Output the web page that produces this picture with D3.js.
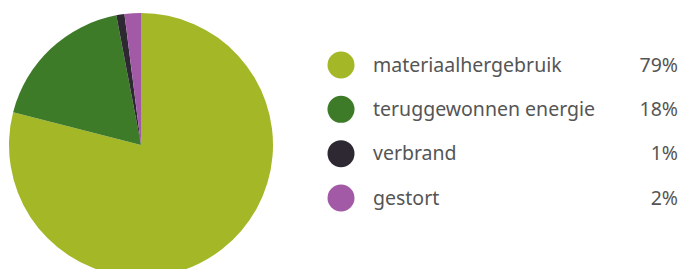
<!DOCTYPE html>
<html>
<head>
<meta charset="utf-8">
<script src="https://cdn.jsdelivr.net/npm/d3@7"></script>
<style>
  body { margin: 0; background: #fff; }
  svg { display: block; }
</style>
</head>
<body>
<svg id="chart" width="681" height="269"></svg>
<script>
const categories = ["materiaalhergebruik", "teruggewonnen energie", "verbrand", "gestort"];
const values = [79, 18, 1, 2];
const labels = ["79%", "18%", "1%", "2%"];
const colors = ["#a4b726", "#3e7b28", "#2e2832", "#a259a6"];

const width = 681, height = 269;
const svg = d3.select("#chart");

const cx = 141, cy = 145, radius = 132;

const pie = d3.pie().sort(null).value(d => d.value);
const arc = d3.arc().innerRadius(0).outerRadius(radius);

const data = categories.map((name, i) => ({ name, value: values[i], label: labels[i] }));
const color = d3.scaleOrdinal().domain(categories).range(colors);

svg.append("g")
  .attr("transform", `translate(${cx},${cy})`)
  .selectAll("path")
  .data(pie(data))
  .join("path")
  .attr("d", arc)
  .attr("fill", d => color(d.data.name));

// legend
const legendY = d3.scalePoint()
  .domain(categories)
  .range([65, 198]);

const legend = svg.append("g")
  .selectAll("g")
  .data(data)
  .join("g")
  .attr("transform", d => `translate(0,${legendY(d.name)})`);

legend.append("circle")
  .attr("cx", 341)
  .attr("r", 13.5)
  .attr("fill", d => color(d.name));

legend.append("text")
  .attr("x", 373)
  .attr("dy", "0.35em")
  .attr("font-family", "Noto Sans, sans-serif")
  .attr("font-size", 19.5)
  .attr("fill", "#555")
  .text(d => d.name);

legend.append("text")
  .attr("x", 678)
  .attr("dy", "0.35em")
  .attr("text-anchor", "end")
  .attr("font-family", "Noto Sans, sans-serif")
  .attr("font-size", 19.5)
  .attr("fill", "#555")
  .text(d => d.label);
</script>
</body>
</html>
